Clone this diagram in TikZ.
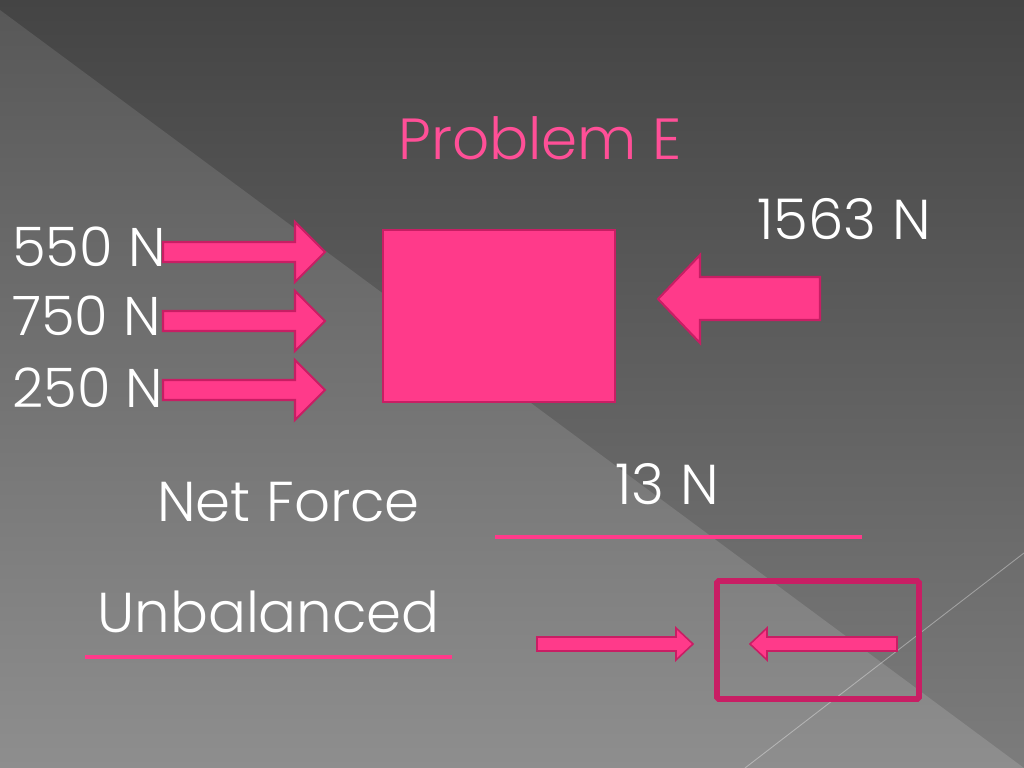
\documentclass[tikz,border=0pt]{standalone}
\usepackage{fontspec}
\setmainfont{Poppins}[UprightFont=* Light]
\usepackage{tikz}
\definecolor{forcepink}{HTML}{FF3A8A}
\definecolor{forceedge}{HTML}{C81E64}
\definecolor{titlepink}{HTML}{FF4F97}
\definecolor{bgtop}{HTML}{444444}
\definecolor{bgbot}{HTML}{7C7C7C}
\definecolor{facetop}{HTML}{585858}
\definecolor{facebot}{HTML}{8E8E8E}
\tikzset{
  font={\fontsize{32pt}{38}\selectfont}}

\begin{document}
\begin{tikzpicture}[x=0.2mm, y=0.2mm]
\tikzstyle{every node}+=[inner sep=0pt, text=white]
\tikzstyle{block}=[fill=forcepink, draw=forceedge, line width=1.2pt]
\tikzstyle{lefttag}=[anchor=base west, font={\fontsize{31pt}{38}\selectfont}]
% background
\useasboundingbox (0,0) rectangle (1024,-768);
\shade [top color=bgtop, bottom color=bgbot] (0,0) rectangle (1024,-768);
\shade [top color=facetop, bottom color=facebot] (0,-10) -- (1024,-768) -- (0,-768) -- cycle;
\draw [white, opacity=0.35, line width=0.5pt] (745,-768) -- (1024,-553);
% title
\draw (398,-160) node [anchor=base west, text=titlepink, font={\fontsize{33pt}{40}\selectfont}] (title) {Problem E};
% forces on the left
\draw (12,-267) node [lefttag] (f550) {550 N};
\draw (12,-336) node [lefttag] (f750) {750 N};
\draw (12,-408) node [lefttag] (f250) {250 N};
\draw [block] (163,-242) -- (295,-242) -- (295,-222) -- (325,-252) -- (295,-282) -- (295,-262) -- (163,-262) -- cycle;
\draw [block] (163,-311) -- (295,-311) -- (295,-291) -- (325,-321) -- (295,-351) -- (295,-331) -- (163,-331) -- cycle;
\draw [block] (163,-380) -- (295,-380) -- (295,-360) -- (325,-390) -- (295,-420) -- (295,-400) -- (163,-400) -- cycle;
% the box
\draw [block] (383,-230) rectangle (615,-402);
% force on the right
\draw (757,-240) node [anchor=base west] (f1563) {1563 N};
\draw [block] (820,-277) -- (700,-277) -- (700,-255) -- (658,-299) -- (700,-343) -- (700,-320) -- (820,-320) -- cycle;
% answers
\draw (157,-522) node [anchor=base west] (net) {Net Force};
\draw (615,-505) node [anchor=base west] (n13) {13 N};
\draw [forcepink, line width=2.8pt] (495,-537) -- (862,-537);
\draw (97,-633) node [anchor=base west] (unbal) {Unbalanced};
\draw [forcepink, line width=2.8pt] (85,-657) -- (452,-657);
% small sketch
\draw [block, line width=0.9pt] (537,-637) -- (676,-637) -- (676,-628) -- (693,-644) -- (676,-660) -- (676,-651) -- (537,-651) -- cycle;
\draw [forceedge, line width=3.4pt, rounded corners=1pt] (717,-581) rectangle (919,-699);
\draw [block, line width=0.9pt] (897,-637) -- (767,-637) -- (767,-628) -- (750,-644) -- (767,-660) -- (767,-651) -- (897,-651) -- cycle;
\end{tikzpicture}
\end{document}
